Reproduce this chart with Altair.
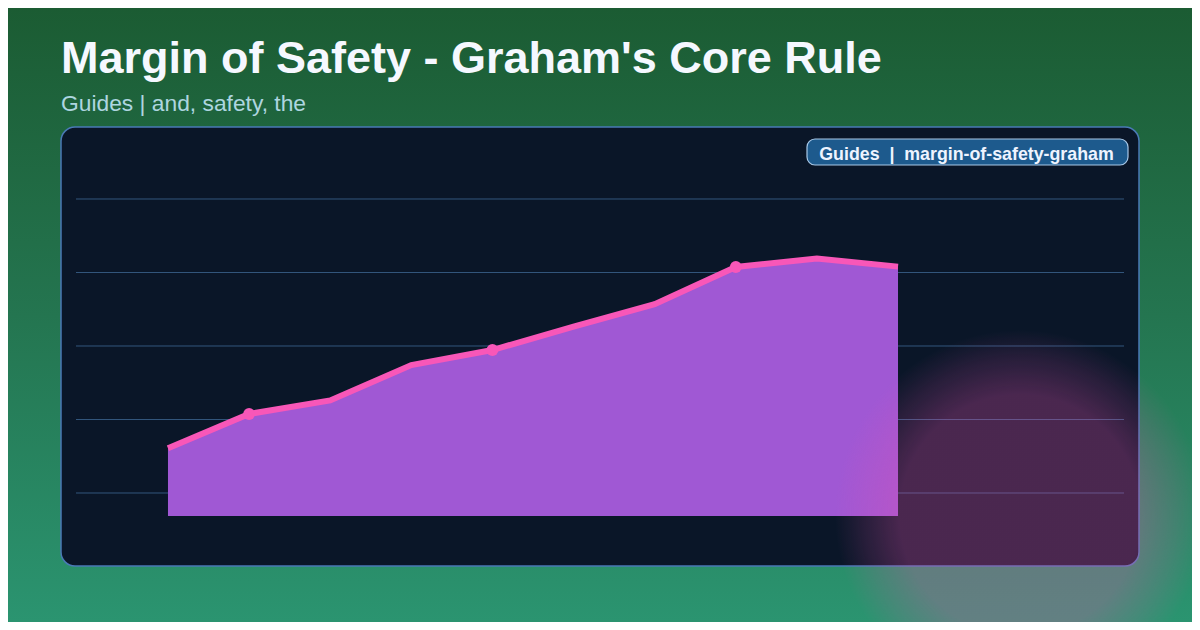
import altair as alt
import pandas as pd

# ---- data ----
idx = list(range(10))
values = [32.2, 41.5, 45.2, 54.8, 58.9, 65.3, 71.4, 81.5, 83.8, 81.6]
marked = [1, 4, 7]
grid_values = [20, 40, 60, 80, 100]
title_text = "Margin of Safety - Graham's Core Rule"
subtitle_text = "Guides | and, safety, the"
badge_text = "Guides\u00a0\u00a0|\u00a0\u00a0margin-of-safety-graham"

X_DOMAIN = [-1.134, 11.786]
Y_DOMAIN = [13.74, 105.17]

W, H = 1048, 336
FONT = "Liberation Sans, Arial, Helvetica, sans-serif"

df = pd.DataFrame({"i": idx, "v": values})
pts = df[df["i"].isin(marked)]
grid = pd.DataFrame({"g": grid_values})
one = pd.DataFrame({"k": [0]})

xs = alt.Scale(domain=X_DOMAIN, nice=False, zero=False)
ys = alt.Scale(domain=Y_DOMAIN, nice=False, zero=False)
X = alt.X("i:Q", scale=xs, axis=None)
Y = alt.Y("v:Q", scale=ys, axis=None)

bg = alt.Chart(one).mark_rect(
    fill=alt.LinearGradient(
        gradient="linear",
        stops=[alt.GradientStop(color="#1b5b32", offset=0),
               alt.GradientStop(color="#247550", offset=0.5),
               alt.GradientStop(color="#2b9571", offset=1)],
        x1=0, x2=0, y1=0, y2=1),
    strokeWidth=0,
).encode(x=alt.value(-76), x2=alt.value(1124), y=alt.value(-180), y2=alt.value(450))

panel = alt.Chart(one).mark_rect(
    fill="#0a1628", stroke="#4a7ab5", strokeWidth=1.5, cornerRadius=14
).encode(x=alt.value(-15), x2=alt.value(1063), y=alt.value(-53), y2=alt.value(386))

grid_rules = alt.Chart(grid).mark_rule(color="#33577d", strokeWidth=1).encode(
    y=alt.Y("g:Q", scale=ys, axis=None), x=alt.value(0), x2=alt.value(W)
)

area = alt.Chart(df).mark_area(color="#a058d4", opacity=1).encode(
    x=X, y=Y, y2=alt.Y2Datum(Y_DOMAIN[0])
)

line = alt.Chart(df).mark_line(color="#f857b8", strokeWidth=6).encode(x=X, y=Y)

points = alt.Chart(pts).mark_circle(color="#f857b8", size=140, opacity=1).encode(x=X, y=Y)

glow = alt.Chart(one).mark_rect(
    fill=alt.RadialGradient(
        gradient="radial",
        stops=[alt.GradientStop(color="rgba(232,80,176,0.29)", offset=0),
               alt.GradientStop(color="rgba(232,80,176,0.29)", offset=0.65),
               alt.GradientStop(color="rgba(232,80,176,0.13)", offset=0.85),
               alt.GradientStop(color="rgba(232,80,176,0.0)", offset=1)],
        x1=0.5, y1=0.5, r1=0, x2=0.5, y2=0.5, r2=0.5),
    strokeWidth=0,
).encode(x=alt.value(759), x2=alt.value(1129), y=alt.value(150), y2=alt.value(520))

badge = alt.Chart(one).mark_rect(
    fill="#1d5a8d", stroke="#a8c8e8", strokeWidth=1.2, cornerRadius=8
).encode(x=alt.value(731), x2=alt.value(1052), y=alt.value(-41), y2=alt.value(-15))

badge_label = alt.Chart(one).mark_text(
    font=FONT, fontSize=17.8, fontWeight="bold", color="#eef4ff",
    align="center", baseline="alphabetic"
).encode(x=alt.value(890.5), y=alt.value(-20), text=alt.value(badge_text))

title = alt.Chart(one).mark_text(
    font=FONT, fontSize=45, fontWeight="bold", color="#f5f8ff",
    align="left", baseline="alphabetic"
).encode(x=alt.value(-15), y=alt.value(-107.5), text=alt.value(title_text))

subtitle = alt.Chart(one).mark_text(
    font=FONT, fontSize=22.8, color="#aed6e0",
    align="left", baseline="alphabetic"
).encode(x=alt.value(-15), y=alt.value(-69.5), text=alt.value(subtitle_text))

chart = alt.layer(
    bg, panel, grid_rules, area, line, points, glow, badge, badge_label, title, subtitle
).properties(
    width=W, height=H,
    padding={"left": 68, "top": 172, "right": 68, "bottom": 106},
    autosize=alt.AutoSizeParams(type="none"),
    background="#1b5a31",
).configure_view(stroke=None)

chart.save("out.html", embed_options={"renderer": "svg", "actions": False})
